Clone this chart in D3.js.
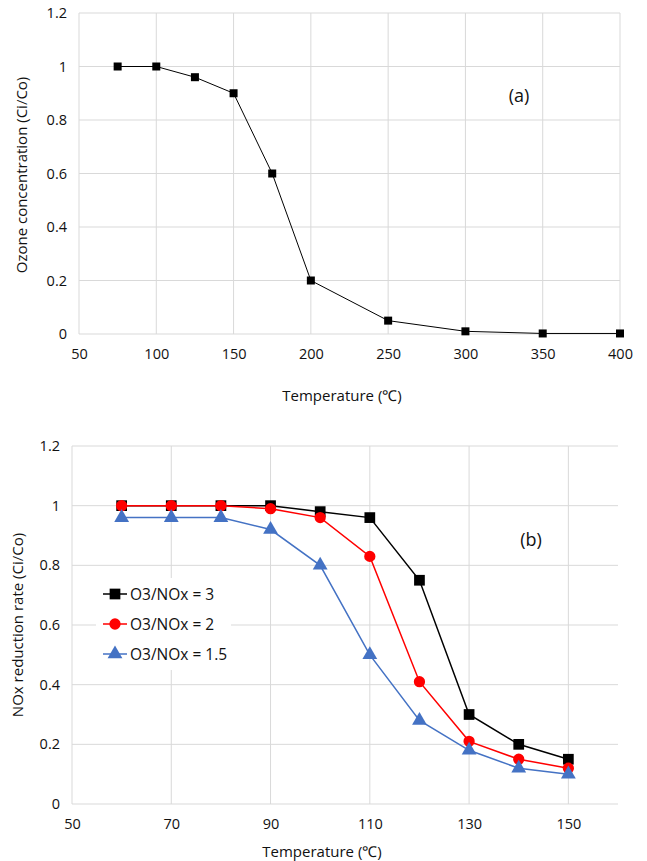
<!DOCTYPE html>
<html>
<head>
<meta charset="utf-8">
<script src="https://cdn.jsdelivr.net/npm/d3@7"></script>
<style>
body{margin:0;background:#fff;}
svg text{font-family:"Open Sans",sans-serif;fill:#111;}
</style>
</head>
<body>
<div id="chart"></div>
<script>
// chart (a): ozone vs temperature
var tempA = [75,100,125,150,175,200,250,300,350,400];
var ozone = [1,1,0.96,0.9,0.6,0.2,0.05,0.01,0.002,0.002];
var xTicksA = [50,100,150,200,250,300,350,400];

// chart (b): NOx reduction rate
var tempB = [60,70,80,90,100,110,120,130,140,150];
var ratio3 = [1,1,1,1,0.98,0.96,0.75,0.30,0.20,0.15];
var ratio2 = [1,1,1,0.99,0.96,0.83,0.41,0.21,0.15,0.12];
var ratio15 = [0.96,0.96,0.96,0.92,0.80,0.50,0.28,0.18,0.12,0.10];
var seriesNames = ["O3/NOx = 3","O3/NOx = 2","O3/NOx = 1.5"];
var xTicksB = [50,70,90,110,130,150];
var yTicks = [0,0.2,0.4,0.6,0.8,1,1.2];

var w = 647, h = 861;
var svg = d3.select("#chart").append("svg")
    .attr("width",w).attr("height",h);

function grid(g, xScale, yScale, xTicks){
    g.selectAll(".vg").data(xTicks).enter().append("line")
        .attr("x1",function(d){return xScale(d);})
        .attr("x2",function(d){return xScale(d);})
        .attr("y1",yScale(0)).attr("y2",yScale(1.2))
        .attr("stroke","#d9d9d9").attr("stroke-width",1);
    g.selectAll(".hg").data(yTicks).enter().append("line")
        .attr("x1",xScale.range()[0]).attr("x2",xScale.range()[1])
        .attr("y1",function(d){return yScale(d);})
        .attr("y2",function(d){return yScale(d);})
        .attr("stroke","#d9d9d9").attr("stroke-width",1);

    var xAxis = d3.axisBottom(xScale).tickValues(xTicks).tickSize(0).tickPadding(15);
    g.append("g").attr("transform","translate(0,"+yScale(0)+")").call(xAxis)
        .call(function(s){ s.select(".domain").remove(); })
        .selectAll("text").style("font-size","14.5px").attr("fill","#111");
    var yAxis = d3.axisLeft(yScale).tickValues(yTicks).tickSize(0).tickPadding(12)
        .tickFormat(function(d){return d3.format("")(+d.toFixed(1));});
    g.append("g").attr("transform","translate("+xScale.range()[0]+",0)").call(yAxis)
        .call(function(s){ s.select(".domain").remove(); })
        .selectAll("text").style("font-size","14.5px").attr("fill","#111");
}

// ---- chart (a)
var xA = d3.scaleLinear().domain([50,400]).range([79,620]);
var yA = d3.scaleLinear().domain([0,1.2]).range([334,13]);
var gA = svg.append("g");
grid(gA, xA, yA, xTicksA);

var lineA = d3.line().x(function(d,i){return xA(tempA[i]);}).y(function(d){return yA(d);});
gA.append("path").datum(ozone).attr("d",lineA)
    .attr("fill","none").attr("stroke","#000").attr("stroke-width",1);
gA.selectAll(".ma").data(ozone).enter().append("rect")
    .attr("x",function(d,i){return xA(tempA[i])-4;})
    .attr("y",function(d){return yA(d)-4;})
    .attr("width",8).attr("height",8).attr("fill","#000");

gA.append("text").attr("x",519).attr("y",102).attr("text-anchor","middle")
    .style("font-size","18px").text("(a)");
gA.append("text").attr("x",342).attr("y",401).attr("text-anchor","middle")
    .style("font-size","15px").text("Temperature (℃)");
gA.append("text").attr("transform","translate(27,175) rotate(-90)")
    .attr("text-anchor","middle").style("font-size","15px")
    .text("Ozone concentration (Ci/Co)");

// ---- chart (b)
var xB = d3.scaleLinear().domain([50,160]).range([72,618]);
var yB = d3.scaleLinear().domain([0,1.2]).range([804,446]);
var gB = svg.append("g");
grid(gB, xB, yB, xTicksB);

var seriesB = [
    {name:seriesNames[0], values:ratio3, color:"#000000", shape:"square"},
    {name:seriesNames[1], values:ratio2, color:"#ff0000", shape:"circle"},
    {name:seriesNames[2], values:ratio15, color:"#4472c4", shape:"triangle"}
];
var symbols = {square:d3.symbolSquare, circle:d3.symbolCircle, triangle:d3.symbolTriangle};
var sizes = {square:115, circle:100, triangle:95};

var lineB = d3.line().x(function(d,i){return xB(tempB[i]);}).y(function(d){return yB(d);});
seriesB.forEach(function(s){
    gB.append("path").datum(s.values).attr("d",lineB)
        .attr("fill","none").attr("stroke",s.color).attr("stroke-width",1.5);
    gB.selectAll(".m"+s.shape).data(s.values).enter().append("path")
        .attr("d",d3.symbol().type(symbols[s.shape]).size(sizes[s.shape]))
        .attr("transform",function(d,i){return "translate("+xB(tempB[i])+","+yB(d)+")";})
        .attr("fill",s.color);
});

// legend
var leg = gB.append("g");
leg.append("rect").attr("x",96).attr("y",578).attr("width",135).attr("height",92).attr("fill","#fff");
seriesB.forEach(function(s,i){
    var y = 594 + i*30;
    leg.append("line").attr("x1",103).attr("x2",127).attr("y1",y).attr("y2",y)
        .attr("stroke",s.color).attr("stroke-width",1.5);
    leg.append("path").attr("d",d3.symbol().type(symbols[s.shape]).size(sizes[s.shape]))
        .attr("transform","translate(115,"+y+")").attr("fill",s.color);
    leg.append("text").attr("x",130).attr("y",y+5.5).style("font-size","15.5px").text(s.name);
});

gB.append("text").attr("x",531).attr("y",546).attr("text-anchor","middle")
    .style("font-size","18px").text("(b)");
gB.append("text").attr("x",322).attr("y",857).attr("text-anchor","middle")
    .style("font-size","15px").text("Temperature (℃)");
gB.append("text").attr("transform","translate(23,625) rotate(-90)")
    .attr("text-anchor","middle").style("font-size","15px")
    .text("NOx reduction rate (Ci/Co)");
</script>
</body>
</html>
